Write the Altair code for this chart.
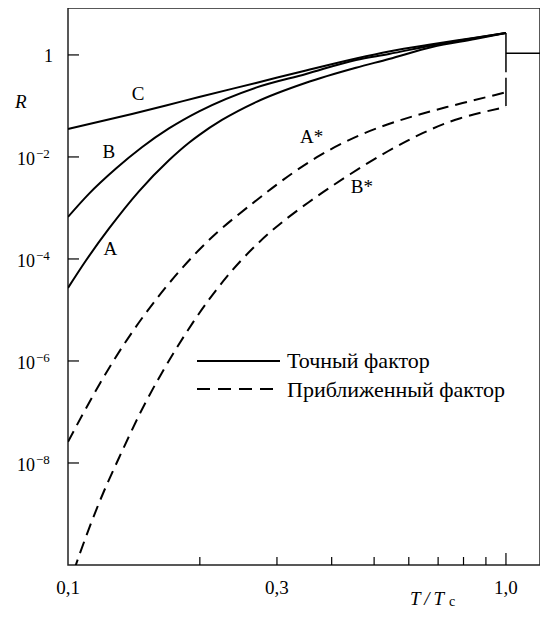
import altair as alt
import pandas as pd

FONT = "Liberation Serif"

# ---------------- data ----------------
# exact factor (solid curves)
T_A = [0.1, 0.1099, 0.1241, 0.1452, 0.170, 0.1889, 0.1992, 0.2247, 0.2687, 0.3495, 0.4546, 0.5406, 0.678, 0.85, 1.0]
R_A = [2.70e-5, 9.31e-5, 3.96e-4, 2.12e-3, 8.61e-3, 1.90e-2, 2.68e-2, 5.31e-2, 0.119, 0.285, 0.561, 0.831, 1.435, 2.06, 2.70]

T_B = [0.1, 0.1116, 0.1287, 0.1475, 0.170, 0.1992, 0.2687, 0.3495, 0.4546, 0.5406, 0.678, 0.85, 1.0]
R_B = [6.67e-4, 1.89e-3, 5.93e-3, 1.55e-2, 3.62e-2, 7.84e-2, 0.229, 0.424, 0.798, 1.046, 1.535, 2.15, 2.70]

T_C = [0.1, 0.140, 0.1674, 0.1992, 0.2687, 0.3495, 0.4546, 0.5406, 0.678, 0.85, 1.0]
R_C = [3.54e-2, 6.97e-2, 0.102, 0.150, 0.2825, 0.497, 0.854, 1.171, 1.62, 2.17, 2.70]

# approximate factor (dashed curves)
T_AS = [0.1, 0.119, 0.144, 0.179, 0.218, 0.266, 0.308, 0.374, 0.469, 0.591, 0.715, 1.0]
R_AS = [2.6e-8, 4.3e-7, 5.6e-6, 6.0e-5, 3.4e-4, 1.3e-3, 3.5e-3, 1.1e-2, 2.95e-2, 5.8e-2, 9.1e-2, 0.185]

T_BS = [0.1, 0.104, 0.118, 0.131, 0.145, 0.161, 0.192, 0.230, 0.269, 0.308, 0.368, 0.438, 0.541, 0.643, 0.78, 1.0]
R_BS = [3.4e-11, 1.0e-10, 1.9e-9, 1.3e-8, 8.7e-8, 4.7e-7, 5.8e-6, 4.7e-5, 1.95e-4, 5.4e-4, 1.65e-3, 4.5e-3, 1.37e-2, 2.95e-2, 6.0e-2, 9.5e-2]

# jump at T = Tc and R = 1 above Tc
SEG_T = [1.0, 1.0, 1.0]
SEG_T2 = [1.0, 1.0, 1.196]
SEG_R = [2.70, 0.355, 1.08]
SEG_R2 = [0.46, 0.10, 1.08]

# curve labels
LBL_TEXT = ["C", "B", "A", "A*", "B*"]
LBL_T = [0.1445, 0.124, 0.125, 0.360, 0.469]
LBL_R = [0.172, 0.0125, 1.58e-4, 0.0246, 2.6e-3]

# axes
X_LABEL_VALUES = [0.1, 0.3, 1.0]
X_LABEL_TEXT = ["0,1", "0,3", "1,0"]
X_MINOR_TICKS = [0.2, 0.3, 0.4, 0.5, 0.6, 0.7, 0.8, 0.9]
X_MAJOR_TICKS = [1.0]
Y_TICKS = [1, 1e-2, 1e-4, 1e-6, 1e-8]
Y_BASE = ["1", "10", "10", "10", "10"]
Y_EXP = ["", "\u22122", "\u22124", "\u22126", "\u22128"]

LEGEND_LABELS = ["Точный фактор", "Приближенный фактор"]

# ---------------- chart ----------------
def curves(names, Ts, Rs):
    return pd.concat([pd.DataFrame({"curve": n, "T": t, "R": r}) for n, t, r in zip(names, Ts, Rs)])

solid_df = curves(["A", "B", "C"], [T_A, T_B, T_C], [R_A, R_B, R_C])
dashed_df = curves(["A*", "B*"], [T_AS, T_BS], [R_AS, R_BS])

xs = alt.Scale(type="log", domain=[0.1, 1.196], nice=False)
ys = alt.Scale(type="log", domain=[1e-10, 8.32], nice=False)

X = lambda f="T": alt.X(f"{f}:Q", scale=xs, axis=None)
Y = lambda f="R": alt.Y(f"{f}:Q", scale=ys, axis=None)

solid = alt.Chart(solid_df).mark_line(color="black", strokeWidth=2, interpolate="monotone", clip=True).encode(
    x=X(), y=Y(), detail="curve:N")
dashed = alt.Chart(dashed_df).mark_line(color="black", strokeWidth=2, strokeDash=[12, 7],
                                        interpolate="basis", clip=True).encode(
    x=X(), y=Y(), detail="curve:N")

seg = alt.Chart(pd.DataFrame({"T": SEG_T, "T2": SEG_T2, "R": SEG_R, "R2": SEG_R2})).mark_rule(
    color="black", strokeWidth=1.5).encode(x=X(), x2="T2:Q", y=Y(), y2="R2:Q")

labels = alt.Chart(pd.DataFrame({"T": LBL_T, "R": LBL_R, "t": LBL_TEXT})).mark_text(
    font=FONT, fontSize=19, color="black", align="center", baseline="middle").encode(
    x=X(), y=Y(), text="t:N")

xt_minor = alt.Chart(pd.DataFrame({"T": X_MINOR_TICKS})).mark_rule(color="black", strokeWidth=1.2).encode(
    x=X(), y=alt.value(549), y2=alt.value(557))
xt_major = alt.Chart(pd.DataFrame({"T": X_MAJOR_TICKS})).mark_rule(color="black", strokeWidth=1.2).encode(
    x=X(), y=alt.value(545), y2=alt.value(557))
yt = alt.Chart(pd.DataFrame({"R": Y_TICKS})).mark_rule(color="black", strokeWidth=1.2).encode(
    y=Y(), x=alt.value(0), x2=alt.value(11))

xlab = alt.Chart(pd.DataFrame({"T": X_LABEL_VALUES, "t": X_LABEL_TEXT})).mark_text(
    font=FONT, fontSize=19, color="black", align="center", baseline="alphabetic").encode(
    x=X(), y=alt.value(586), text="t:N")

ylab_df = pd.DataFrame({"R": Y_TICKS, "b": Y_BASE, "e": Y_EXP})
ylab_one = alt.Chart(ylab_df.iloc[:1]).mark_text(font=FONT, fontSize=18, color="black", align="right",
                                                 baseline="alphabetic", dy=7).encode(
    y=Y(), x=alt.value(-15), text="b:N")
ylab_ten = alt.Chart(ylab_df.iloc[1:]).mark_text(font=FONT, fontSize=18, color="black", align="right",
                                                 baseline="alphabetic", dy=8).encode(
    y=Y(), x=alt.value(-33), text="b:N")
ylab_exp = alt.Chart(ylab_df.iloc[1:]).mark_text(font=FONT, fontSize=13, color="black", align="left",
                                                 baseline="alphabetic", dy=1).encode(
    y=Y(), x=alt.value(-32), text="e:N")


def free_text(text, x, y, size=18, style="normal", align="left"):
    return alt.Chart(pd.DataFrame({"t": [text]})).mark_text(
        font=FONT, fontSize=size, fontStyle=style, color="black", align=align, baseline="alphabetic").encode(
        x=alt.value(x), y=alt.value(y), text="t:N")


r_title = free_text("R", -53, 100, size=19, style="italic")
t_title = free_text("T\u2009/\u2009T", 342, 597, size=19, style="italic")
t_sub = free_text("c", 381, 598, size=14)

leg_solid = alt.Chart(pd.DataFrame({"t": [LEGEND_LABELS[0]]})).mark_rule(color="black", strokeWidth=2).encode(
    x=alt.value(129), x2=alt.value(212), y=alt.value(353))
leg_dash = alt.Chart(pd.DataFrame({"t": [LEGEND_LABELS[1]]})).mark_rule(
    color="black", strokeWidth=2, strokeDash=[13, 8]).encode(
    x=alt.value(129), x2=alt.value(212), y=alt.value(381))
leg_t1 = free_text(LEGEND_LABELS[0], 219, 360, size=22)
leg_t2 = free_text(LEGEND_LABELS[1], 219, 389, size=22)

chart = alt.layer(
    solid, dashed, seg, labels, xt_minor, xt_major, yt, xlab,
    ylab_one, ylab_ten, ylab_exp, r_title, t_title, t_sub,
    leg_solid, leg_dash, leg_t1, leg_t2,
).properties(
    width=472, height=557,
    autosize=alt.AutoSizeParams(type="none"),
    padding={"left": 60, "top": 0, "right": 0, "bottom": 44},
).configure(font=FONT).configure_text(font=FONT).configure_view(stroke="#222", strokeWidth=1.5)

chart.save("out.html", embed_options={"renderer": "svg", "actions": False})
